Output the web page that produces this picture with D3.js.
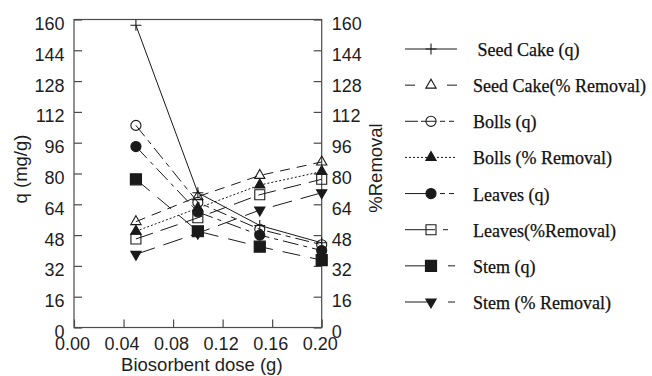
<!DOCTYPE html>
<html>
<head>
<meta charset="utf-8">
<script src="https://cdn.jsdelivr.net/npm/d3@7"></script>
<style>
  html, body { margin: 0; padding: 0; background: #fff; }
  svg { display: block; }
  .tick text { font-family: "Liberation Sans", Arial, sans-serif; font-size: 18px; fill: #1e1e1e; }
  .axis-title { font-family: "Liberation Sans", Arial, sans-serif; font-size: 18.5px; fill: #1e1e1e; }
  .legend text { font-family: "Liberation Serif", "Times New Roman", serif; font-size: 18px; fill: #111; stroke: #111; stroke-width: 0.25px; white-space: pre; }
</style>
</head>
<body>
<svg id="chart" width="652" height="376"></svg>
<script>
// Biosorbent dose (g) on the x axis
const doses = [0.05, 0.10, 0.15, 0.20];

// Uptake q (mg/g), left axis
const seedCakeQ = [157, 70, 53, 44];
const bollsQ    = [105, 65, 51, 43];
const leavesQ   = [94, 60, 48, 40];
const stemQ     = [77, 50, 42, 35];

// Removal (%), right axis
const seedCakePct = [55, 68, 79, 86];
const bollsPct    = [50, 62, 74, 81];
const leavesPct   = [46, 57, 69, 77];
const stemPct     = [38, 49, 61, 70];

const seriesLabels = [
  " Seed Cake (q)", "Seed Cake(% Removal)", "Bolls (q)", "Bolls (% Removal)",
  "Leaves (q)", "Leaves(%Removal)", "Stem (q)", "Stem (% Removal)"
];

const xTicks = [0.00, 0.04, 0.08, 0.12, 0.16, 0.20];
const yTicks = [0, 16, 32, 48, 64, 80, 96, 112, 128, 144, 160];

// Drawing styles per series (marker, fill, dash in plot, dash in legend)
const styles = [
  { symbol: "plus",     filled: false, dash: null,            legendDash: null },
  { symbol: "triangle", filled: false, dash: "10,7",          legendDash: "10,32" },
  { symbol: "circle",   filled: false, dash: "14,5,5,5",      legendDash: "13,3,15,4,5,4,5" },
  { symbol: "triangle", filled: true,  dash: "2,2",           legendDash: "2,2" },
  { symbol: "circle",   filled: true,  dash: "16,5,4,5",      legendDash: "28,7,5,4,5" },
  { symbol: "square",   filled: false, dash: "18,8",          legendDash: "30,8,5,20" },
  { symbol: "square",   filled: true,  dash: "18,10",         legendDash: "30,13,7,10" },
  { symbol: "triangleDown", filled: true, dash: "20,9",       legendDash: "30,13,7,10" }
];

const series = [
  { values: seedCakeQ,   axis: "left" },
  { values: seedCakePct, axis: "right" },
  { values: bollsQ,      axis: "left" },
  { values: bollsPct,    axis: "right" },
  { values: leavesQ,     axis: "left" },
  { values: leavesPct,   axis: "right" },
  { values: stemQ,       axis: "left" },
  { values: stemPct,     axis: "right" }
].map((s, i) => ({ ...s, label: seriesLabels[i], style: styles[i] }));

const svg = d3.select("#chart");
const plot = { left: 74, right: 321.7, top: 19.5, bottom: 327.5 };

const x = d3.scaleLinear().domain([0, 0.20]).range([plot.left, plot.right]);
const yL = d3.scaleLinear().domain([0, 160]).range([plot.bottom, plot.top]);
const yR = d3.scaleLinear().domain([0, 160]).range([plot.bottom, plot.top]);

const axisColor = "#4a4a4a";
const ink = "#1a1a1a";

// Frame
svg.append("rect")
  .attr("x", plot.left).attr("y", plot.top)
  .attr("width", plot.right - plot.left).attr("height", plot.bottom - plot.top)
  .attr("fill", "none").attr("stroke", axisColor).attr("stroke-width", 1.2);

function styleAxis(g) {
  g.select(".domain").remove();
  g.selectAll(".tick line").attr("stroke", axisColor).attr("stroke-width", 1.2);
}

svg.append("g")
  .attr("transform", `translate(${plot.left},0)`)
  .call(d3.axisLeft(yL).tickValues(yTicks).tickSize(-8).tickPadding(9.5).tickFormat(d3.format("d")))
  .call(styleAxis)
  .call(g => g.selectAll(".tick text").attr("dy", "0.55em"));

svg.append("g")
  .attr("transform", `translate(${plot.right},0)`)
  .call(d3.axisRight(yR).tickValues(yTicks).tickSize(-8).tickPadding(10).tickFormat(d3.format("d")))
  .call(styleAxis)
  .call(g => g.selectAll(".tick text").attr("dy", "0.55em"));

svg.append("g")
  .attr("transform", `translate(0,${plot.bottom})`)
  .call(d3.axisBottom(x).tickValues(xTicks).tickSize(-8).tickPadding(9.7).tickFormat(d3.format(".2f")))
  .call(styleAxis)
  .call(g => g.selectAll(".tick text").attr("dx", "-2"));

// Axis titles
svg.append("text").attr("class", "axis-title")
  .attr("x", (plot.left + plot.right) / 2 + 4).attr("y", 371)
  .attr("text-anchor", "middle").text("Biosorbent dose (g)");

svg.append("text").attr("class", "axis-title")
  .attr("transform", "translate(27,169) rotate(-90)")
  .attr("text-anchor", "middle").text("q (mg/g)");

svg.append("text").attr("class", "axis-title")
  .attr("transform", "translate(382,168) rotate(-90)")
  .attr("text-anchor", "middle").text("%Removal");

// Marker shapes
const tri = d3.symbol().type(d3.symbolTriangle).size(46)();
const markerPath = {
  plus: "M-5.5,0H5.5M0,-5.5V5.5",
  triangle: tri,
  triangleDown: tri,
  circle: d3.symbol().type(d3.symbolCircle).size(80)(),
  square: "M-5,-5H5V5H-5Z"
};

function drawMarker(g, st, cx, cy) {
  const p = g.append("path")
    .attr("d", markerPath[st.symbol])
    .attr("transform", `translate(${cx},${cy})` + (st.symbol === "triangleDown" ? " rotate(180)" : ""))
    .attr("stroke", ink).attr("stroke-width", 1.1);
  if (st.symbol === "square" && st.filled) p.attr("transform", `translate(${cx},${cy}) scale(1.1)`);
  p.attr("fill", st.filled ? ink : "none");
}

// Series lines and markers
const plotG = svg.append("g");
series.forEach(s => {
  const yS = s.axis === "left" ? yL : yR;
  const line = d3.line().x((d, i) => x(doses[i])).y(d => yS(d));
  plotG.append("path")
    .datum(s.values)
    .attr("d", line)
    .attr("fill", "none")
    .attr("stroke", ink)
    .attr("stroke-width", 1)
    .attr("stroke-dasharray", s.style.dash);
});
series.forEach(s => {
  const yS = s.axis === "left" ? yL : yR;
  s.values.forEach((v, i) => drawMarker(plotG, s.style, x(doses[i]), yS(v)));
});

// Legend
const legendY = d3.scalePoint().domain(d3.range(series.length)).range([49, 302]);
const legend = svg.append("g").attr("class", "legend");
series.forEach((s, i) => {
  const ly = legendY(i);
  legend.append("line")
    .attr("x1", 405).attr("x2", 457).attr("y1", ly).attr("y2", ly)
    .attr("stroke", ink).attr("stroke-width", 1)
    .attr("stroke-dasharray", s.style.legendDash);
  drawMarker(legend, s.style, 431, ly);
  legend.append("text")
    .attr("x", 473).attr("y", ly + 7)
    .text(s.label);
});
</script>
</body>
</html>
